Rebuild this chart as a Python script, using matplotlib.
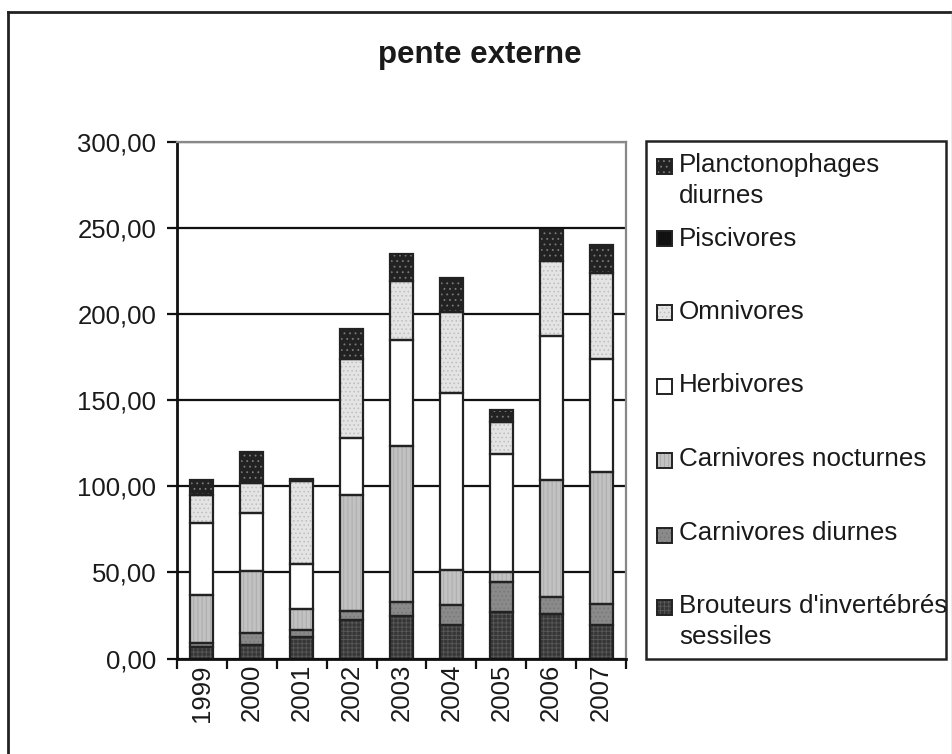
import matplotlib
matplotlib.use("Agg")
import matplotlib.pyplot as plt
from matplotlib.patches import Rectangle
from matplotlib.lines import Line2D
import numpy as np

plt.rcParams['font.family'] = ['Liberation Sans', 'DejaVu Sans']
plt.rcParams['hatch.linewidth'] = 0.6

years = ['1999', '2000', '2001', '2002', '2003', '2004', '2005', '2006', '2007']
brouteurs = [6.8, 7.8, 12.3, 22.4, 24.7, 19.7, 27.0, 26.1, 19.3]
carn_diurnes = [2.3, 6.8, 4.2, 4.9, 8.1, 11.2, 17.4, 9.6, 12.6]
carn_nocturnes = [27.9, 36.0, 12.1, 67.8, 90.5, 20.3, 6.1, 67.7, 76.3]
herbivores = [41.9, 34.2, 26.0, 33.0, 61.7, 103.1, 68.4, 83.7, 65.8]
omnivores = [16.0, 16.9, 48.4, 45.9, 34.0, 47.2, 18.2, 43.5, 49.7]
piscivores = [0, 0, 0, 0, 0, 0, 0, 0, 0]
planctonophages = [9.0, 18.5, 1.5, 17.4, 15.9, 19.7, 7.3, 18.4, 16.7]

labels = ["Brouteurs d'invertébrés\nsessiles", "Carnivores diurnes", "Carnivores nocturnes",
          "Herbivores", "Omnivores", "Piscivores", "Planctonophages\ndiurnes"]
series = [brouteurs, carn_diurnes, carn_nocturnes, herbivores, omnivores, piscivores, planctonophages]
# (face, hatch, hatch colour)
styles = [('#363636', '++++', '#595959'),
          ('#8a8a8a', '....', '#777777'),
          ('#c2c2c2', '||||', '#a8a8a8'),
          ('#ffffff', None, '#ffffff'),
          ('#e4e4e4', '....', '#bdbdbd'),
          ('#111111', None, '#111111'),
          ('#222222', '...', '#7a7a7a')]

W, H = 953, 754
fig = plt.figure(figsize=(W / 100, H / 100), dpi=100)

def fx(px):
    return px / W

def fy(py):
    return 1 - py / H

ax = fig.add_axes([fx(177), fy(658.5), fx(626) - fx(177), fy(142) - fy(658.5)])

x = np.arange(len(years))
bw = 0.46
bottom = np.zeros(len(years))
for vals, (fc, ht, hc) in zip(series, styles):
    v = np.array(vals, dtype=float)
    ax.bar(x, v, bw, bottom=bottom, color=fc, hatch=ht, edgecolor=hc, linewidth=0, zorder=3)
    ax.bar(x, v, bw, bottom=bottom, fill=False, edgecolor='#222222', linewidth=1.6, zorder=4)
    bottom += v

ax.set_xlim(-0.5, len(years) - 0.5)
ax.set_ylim(0, 300)
ax.set_yticks(np.arange(0, 301, 50))
ax.set_yticklabels([f"{t:.2f}".replace('.', ',') for t in np.arange(0, 301, 50)])
ax.yaxis.grid(True, color='#111111', linewidth=1.6, zorder=1)
ax.set_axisbelow(True)

ax.set_xticks(np.arange(-0.5, len(years), 1.0))
ax.set_xticklabels([])
ax.set_xticks(x, minor=True)
ax.set_xticklabels(years, minor=True, rotation=90)
ax.tick_params(axis='x', which='major', length=7, width=1.6, color='#111111', direction='out')
ax.tick_params(axis='x', which='minor', length=0, pad=4, labelsize=18.5)
ax.tick_params(axis='y', length=7, width=1.6, color='#111111', pad=8, labelsize=18.5)
for lab in ax.get_xticklabels(minor=True) + ax.get_yticklabels():
    lab.set_color('#1a1a1a')

for s in ['left', 'bottom']:
    ax.spines[s].set_color('#111111')
    ax.spines[s].set_linewidth(2.0)
for s in ['top', 'right']:
    ax.spines[s].set_color('#888888')
    ax.spines[s].set_linewidth(1.6)
ax.spines['bottom'].set_zorder(5)

# Title
fig.text(fx(480), fy(55), 'pente externe', ha='center', va='center', fontsize=22.5,
         fontweight='bold', color='#1a1a1a')

# Legend box (drawn manually to follow the original's spacing)
fig.add_artist(Rectangle((fx(646), fy(659)), fx(946) - fx(646), fy(141) - fy(659),
                         transform=fig.transFigure, facecolor='white', edgecolor='#222222',
                         linewidth=1.8))
sq_centers = [607, 535, 461, 387, 312, 239, 166]
baselines = [613, 540, 466, 392, 319, 246, 172]
for lab, (fc, ht, hc), sc, bl in zip(labels, styles, sq_centers, baselines):
    fig.add_artist(Rectangle((fx(657), fy(sc + 7.5)), fx(15), fx(15) * W / H,
                             transform=fig.transFigure, facecolor=fc, hatch=ht,
                             edgecolor=hc, linewidth=0))
    fig.add_artist(Rectangle((fx(657), fy(sc + 7.5)), fx(15), fx(15) * W / H,
                             transform=fig.transFigure, fill=False,
                             edgecolor='#222222', linewidth=1.4))
    for i, line in enumerate(lab.split('\n')):
        fig.text(fx(679), fy(bl + i * 31), line, ha='left', va='baseline',
                 fontsize=18.7, color='#1a1a1a')

# Outer chart frame
fig.add_artist(Line2D([fx(8), fx(953)], [fy(12), fy(12)], transform=fig.transFigure,
                      color='#222222', linewidth=2.0))
fig.add_artist(Line2D([fx(8), fx(8)], [fy(12), fy(754)], transform=fig.transFigure,
                      color='#222222', linewidth=2.0))
fig.add_artist(Line2D([fx(952), fx(952)], [fy(12), fy(754)], transform=fig.transFigure,
                      color='#999999', linewidth=1.0))

fig.savefig('out.png', dpi=100, facecolor='white')
